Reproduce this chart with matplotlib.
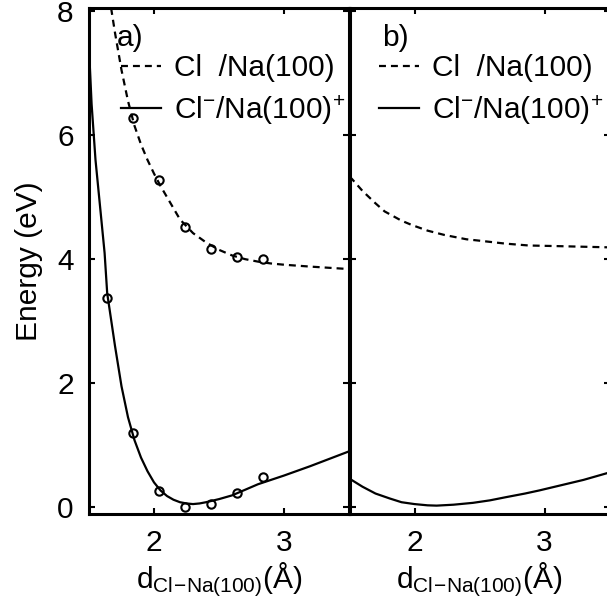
import matplotlib
matplotlib.use("Agg")
import matplotlib.pyplot as plt

plt.rcParams['font.family'] = ['Liberation Sans', 'DejaVu Sans']
plt.rcParams['mathtext.fontset'] = 'custom'
plt.rcParams['mathtext.rm'] = 'Liberation Sans'
plt.rcParams['mathtext.it'] = 'Liberation Sans'
plt.rcParams['lines.scale_dashes'] = False

# Panel a: neutral (dashed) and ionic (solid) curves with computed points
xa_neu = [1.67, 1.70, 1.75, 1.80, 1.85, 1.90, 1.95, 2.00, 2.05, 2.10, 2.20, 2.30,
          2.40, 2.50, 2.60, 2.70, 2.80, 2.90, 3.00, 3.20, 3.50]
ea_neu = [8.05, 7.65, 7.05, 6.55, 6.15, 5.85, 5.60, 5.38, 5.18, 5.00, 4.64, 4.42,
          4.27, 4.15, 4.06, 4.00, 3.96, 3.93, 3.91, 3.88, 3.84]
xa_ion = [1.50, 1.52, 1.55, 1.585, 1.62, 1.64, 1.70, 1.75, 1.80, 1.85, 1.90, 1.95,
          2.00, 2.05, 2.10, 2.15, 2.20, 2.25, 2.30, 2.35, 2.40, 2.50, 2.60, 2.70,
          2.80, 2.90, 3.00, 3.20, 3.40, 3.50]
ea_ion = [7.40, 6.50, 5.60, 4.85, 4.10, 3.45, 2.60, 1.95, 1.45, 1.08, 0.80, 0.58,
          0.40, 0.27, 0.18, 0.12, 0.08, 0.06, 0.05, 0.06, 0.08, 0.13, 0.19, 0.28,
          0.37, 0.44, 0.51, 0.66, 0.82, 0.90]
xa_pts_neu = [1.84, 2.04, 2.24, 2.44, 2.64, 2.84]
ea_pts_neu = [6.28, 5.27, 4.52, 4.17, 4.04, 4.00]
xa_pts_ion = [1.64, 1.84, 2.04, 2.24, 2.44, 2.64, 2.84]
ea_pts_ion = [3.37, 1.19, 0.26, 0.01, 0.05, 0.23, 0.49]

# Panel b
xb_neu = [1.50, 1.52, 1.60, 1.70, 1.77, 1.90, 1.98, 2.10, 2.23, 2.40, 2.49, 2.70,
          2.88, 3.10, 3.50]
eb_neu = [5.33, 5.29, 5.10, 4.90, 4.77, 4.62, 4.55, 4.46, 4.39, 4.32, 4.30, 4.25,
          4.22, 4.21, 4.19]
xb_ion = [1.50, 1.60, 1.70, 1.81, 1.90, 2.00, 2.10, 2.17, 2.30, 2.45, 2.58, 2.70,
          2.85, 2.96, 3.10, 3.30, 3.50]
eb_ion = [0.46, 0.33, 0.22, 0.14, 0.08, 0.05, 0.03, 0.025, 0.04, 0.07, 0.11, 0.16,
          0.22, 0.27, 0.34, 0.44, 0.56]

label_neu = 'Cl  /Na(100)'
label_ion = r'Cl$^{-}$/Na(100)$^{+}$'
xlabel = r'd$_{\mathrm{Cl\!-\!Na(100)}}$(Å)'

W, H = 607, 605
fig = plt.figure(figsize=(W / 100, H / 100), dpi=100)
ax_a = fig.add_axes([89 / W, 91 / H, 260 / W, 506 / H])
ax_b = fig.add_axes([349.5 / W, 91 / H, 260 / W, 506 / H])

FS = 21.5
dash = (0, (5, 3.6))

for ax in (ax_a, ax_b):
    ax.set_xlim(1.5, 3.5)
    ax.set_ylim(-0.11, 8.05)
    ax.set_xticks([2, 3])
    ax.set_yticks([0, 2, 4, 6, 8])
    ax.tick_params(direction='in', top=True, right=True, length=4, width=1.5,
                   labelsize=FS)
    ax.tick_params(axis='x', pad=11)
    ax.tick_params(axis='y', pad=11)
    for s in ax.spines.values():
        s.set_linewidth(2.2)
    ax.set_xlabel(xlabel, fontsize=FS, labelpad=2)

ax_a.plot(xa_neu, ea_neu, color='black', lw=1.6, linestyle=dash, label=label_neu)
ax_a.plot(xa_ion, ea_ion, color='black', lw=1.6, label=label_ion)
ax_a.plot(xa_pts_neu, ea_pts_neu, 'o', mfc='none', mec='black', ms=6, mew=1.5)
ax_a.plot(xa_pts_ion, ea_pts_ion, 'o', mfc='none', mec='black', ms=6, mew=1.5)
ax_a.set_ylabel('Energy (eV)', fontsize=FS, labelpad=10)

ax_b.plot(xb_neu, eb_neu, color='black', lw=1.6, linestyle=dash, label=label_neu)
ax_b.plot(xb_ion, eb_ion, color='black', lw=1.6, label=label_ion)
ax_b.set_yticklabels([])

ax_a.text(0.105, 0.94, 'a)', transform=ax_a.transAxes, fontsize=FS, va='center')
ax_b.text(0.125, 0.94, 'b)', transform=ax_b.transAxes, fontsize=FS, va='center')

for ax, x0 in ((ax_a, 0.10), (ax_b, 0.09)):
    ax.legend(loc='upper left', bbox_to_anchor=(x0, 0.92), frameon=False,
              fontsize=FS, handlelength=1.35, handletextpad=0.42,
              labelspacing=0.35, borderpad=0.2, borderaxespad=0.0)

fig.savefig('out.png', dpi=100)
